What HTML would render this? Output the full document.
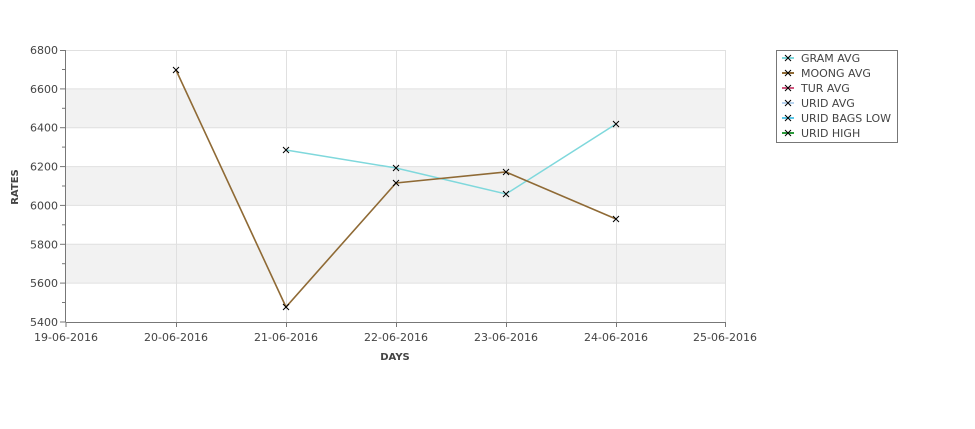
<!DOCTYPE html>
<html><head><style>body{margin:0;background:#fff}svg{display:block}text{font-family:"DejaVu Sans","Liberation Sans",sans-serif;font-size:11px;fill:#444}</style></head>
<body>
<svg width="975" height="429" xmlns="http://www.w3.org/2000/svg">
<rect x="66" y="50" width="659" height="272" fill="#fff"/>
<rect x="66" y="88.9" width="659" height="38.8" fill="#f2f2f2"/>
<rect x="66" y="166.6" width="659" height="38.8" fill="#f2f2f2"/>
<rect x="66" y="244.3" width="659" height="38.8" fill="#f2f2f2"/>
<g stroke="#e0e0e0" stroke-width="1">
<line x1="66" y1="50.5" x2="725" y2="50.5"/><line x1="66" y1="88.9" x2="725" y2="88.9"/><line x1="66" y1="127.7" x2="725" y2="127.7"/><line x1="66" y1="166.6" x2="725" y2="166.6"/><line x1="66" y1="205.4" x2="725" y2="205.4"/><line x1="66" y1="244.3" x2="725" y2="244.3"/><line x1="66" y1="283.1" x2="725" y2="283.1"/>
<line x1="176.5" y1="50" x2="176.5" y2="322"/><line x1="286.5" y1="50" x2="286.5" y2="322"/><line x1="396.5" y1="50" x2="396.5" y2="322"/><line x1="506.5" y1="50" x2="506.5" y2="322"/><line x1="616.5" y1="50" x2="616.5" y2="322"/><line x1="725.5" y1="50" x2="725.5" y2="322"/>
</g>
<g stroke="#777" stroke-width="1">
<line x1="65.5" y1="50" x2="65.5" y2="322"/><line x1="66" y1="322.5" x2="725" y2="322.5"/>
<line x1="60" y1="50.5" x2="66" y2="50.5"/><line x1="60" y1="88.9" x2="66" y2="88.9"/><line x1="60" y1="127.7" x2="66" y2="127.7"/><line x1="60" y1="166.6" x2="66" y2="166.6"/><line x1="60" y1="205.4" x2="66" y2="205.4"/><line x1="60" y1="244.3" x2="66" y2="244.3"/><line x1="60" y1="283.1" x2="66" y2="283.1"/><line x1="60" y1="322" x2="66" y2="322"/>
<line x1="62" y1="69.5" x2="66" y2="69.5"/><line x1="62" y1="108.3" x2="66" y2="108.3"/><line x1="62" y1="147.1" x2="66" y2="147.1"/><line x1="62" y1="186" x2="66" y2="186"/><line x1="62" y1="224.8" x2="66" y2="224.8"/><line x1="62" y1="263.7" x2="66" y2="263.7"/><line x1="62" y1="302.5" x2="66" y2="302.5"/>
<line x1="66" y1="322" x2="66" y2="327"/><line x1="176.5" y1="322" x2="176.5" y2="327"/><line x1="286.5" y1="322" x2="286.5" y2="327"/><line x1="396.5" y1="322" x2="396.5" y2="327"/><line x1="506.5" y1="322" x2="506.5" y2="327"/><line x1="616.5" y1="322" x2="616.5" y2="327"/><line x1="725.5" y1="322" x2="725.5" y2="327"/>
</g>
<g text-anchor="end">
<text x="58" y="54">6800</text><text x="58" y="93">6600</text><text x="58" y="131.7">6400</text><text x="58" y="170.6">6200</text><text x="58" y="209.4">6000</text><text x="58" y="248.3">5800</text><text x="58" y="287.1">5600</text><text x="58" y="326">5400</text>
</g>
<g text-anchor="middle">
<text x="66" y="341">19-06-2016</text><text x="176" y="341">20-06-2016</text><text x="286" y="341">21-06-2016</text><text x="396" y="341">22-06-2016</text><text x="506" y="341">23-06-2016</text><text x="616" y="341">24-06-2016</text><text x="725" y="341">25-06-2016</text>
<text x="395" y="360" style="font-weight:bold;font-size:10px">DAYS</text>
<text transform="translate(18,187) rotate(-90)" style="font-weight:bold;font-size:10px">RATES</text>
</g>
<polyline points="286,150 396,168 506,194 616,124" fill="none" stroke="#7fd8dc" stroke-width="1.5"/>
<polyline points="176,70 286,307 396,183 506,172 616,219" fill="none" stroke="#8f6a35" stroke-width="1.6"/>
<g stroke="#000" stroke-width="1">
<path d="M173,67l6,6M179,67l-6,6"/><path d="M283,304l6,6M289,304l-6,6"/><path d="M393,180l6,6M399,180l-6,6"/><path d="M503,169l6,6M509,169l-6,6"/><path d="M613,216l6,6M619,216l-6,6"/>
<path d="M283,147l6,6M289,147l-6,6"/><path d="M393,165l6,6M399,165l-6,6"/><path d="M503,191l6,6M509,191l-6,6"/><path d="M613,121l6,6M619,121l-6,6"/>
</g>
<rect x="776.5" y="50.5" width="121" height="92" fill="#fff" stroke="#777"/>
<g stroke-width="2">
<line x1="782" y1="58" x2="794" y2="58" stroke="#7fd8dc"/>
<line x1="782" y1="73" x2="794" y2="73" stroke="#8f6a35"/>
<line x1="782" y1="88" x2="794" y2="88" stroke="#d0577f"/>
<line x1="782" y1="103" x2="794" y2="103" stroke="#b8d4f0"/>
<line x1="782" y1="118" x2="794" y2="118" stroke="#5bc8e8"/>
<line x1="782" y1="133" x2="794" y2="133" stroke="#2a9a3a"/>
</g>
<g stroke="#000" stroke-width="1">
<path d="M785,55l6,6M791,55l-6,6"/><path d="M785,70l6,6M791,70l-6,6"/><path d="M785,85l6,6M791,85l-6,6"/><path d="M785,100l6,6M791,100l-6,6"/><path d="M785,115l6,6M791,115l-6,6"/><path d="M785,130l6,6M791,130l-6,6"/>
</g>
<g style="font-size:11px">
<text x="801" y="62" fill="#000">GRAM AVG</text><text x="801" y="77">MOONG AVG</text><text x="801" y="92">TUR AVG</text><text x="801" y="107">URID AVG</text><text x="801" y="122">URID BAGS LOW</text><text x="801" y="137">URID HIGH</text>
</g>
</svg>
</body></html>
